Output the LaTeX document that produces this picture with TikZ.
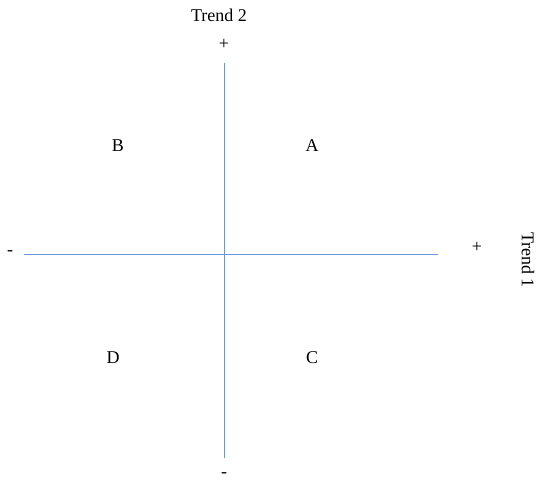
\documentclass[tikz,border=0pt]{standalone}
\usepackage{fontspec}
\setmainfont{Liberation Serif}
\definecolor{axisblue}{RGB}{110,150,220}
\begin{document}
\begin{tikzpicture}[x=1pt,y=-1pt,
  lbl/.style={font=\fontsize{18}{21}\selectfont, inner sep=0pt},
  axisline/.style={draw=axisblue, line width=1pt}]
\useasboundingbox (0,0) rectangle (538,481);
\coordinate (vtop) at (224,63);
\coordinate (vbot) at (224,458);
\coordinate (hleft) at (24,254);
\coordinate (hright) at (438,254);
\draw[axisline] (vtop) -- (vbot);
\draw[axisline] (hleft) -- (hright);
\node[lbl] (t2) at (219,15) {Trend 2};
\node[lbl] (ptop) at (224,44) {+};
\node[lbl] (mbot) at (224,475) {-};
\node[lbl] (mleft) at (10,253) {-};
\node[lbl] (pright) at (477,247) {+};
\node[lbl, rotate=-90] (t1) at (528,260) {Trend 1};
\node[lbl] (A) at (312,146) {A};
\node[lbl] (B) at (118,146) {B};
\node[lbl] (C) at (312,358) {C};
\node[lbl] (D) at (113,358) {D};
\end{tikzpicture}
\end{document}
